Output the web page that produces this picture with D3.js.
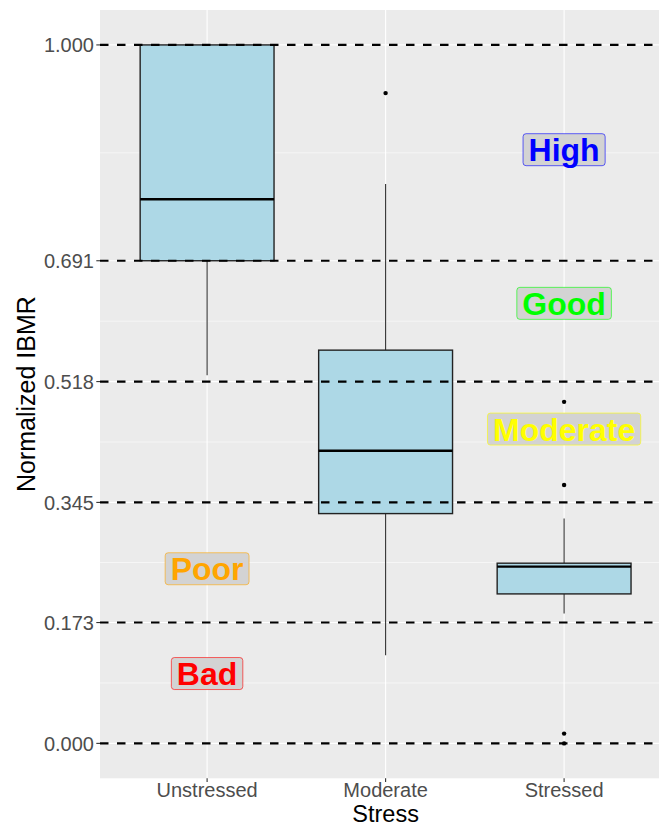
<!DOCTYPE html>
<html>
<head>
<meta charset="utf-8">
<script src="https://cdn.jsdelivr.net/npm/d3@7"></script>
<style>
  body { margin: 0; background: #fff; }
  text { font-family: "Liberation Sans", Arial, sans-serif; }
</style>
</head>
<body>
<svg id="chart"></svg>
<script>
// data
var categories = ["Unstressed", "Moderate", "Stressed"];
var lowerWhisker = [0.527, 0.126, 0.186];
var q1 = [0.691, 0.329, 0.214];
var medians = [0.779, 0.419, 0.253];
var q3 = [1.000, 0.563, 0.258];
var upperWhisker = [1.000, 0.801, 0.322];
var outliers = [[], [0.931], [0.489, 0.370, 0.014, 0.000]];

var breaks = [0.000, 0.173, 0.345, 0.518, 0.691, 1.000];
var breakLabels = ["0.000", "0.173", "0.345", "0.518", "0.691", "1.000"];

var labelText = ["High", "Good", "Moderate", "Poor", "Bad"];
var labelY = [0.85, 0.63, 0.45, 0.25, 0.10];
var labelCat = ["Stressed", "Stressed", "Stressed", "Unstressed", "Unstressed"];
var labelColor = ["#0000FF", "#00FF00", "#FFFF00", "#FFA500", "#FF0000"];

// dimensions
var W = 659, H = 827;
var margin = {top: 10, left: 100, bottom: 48.7};
var panelRight = 671.2; // panel runs past the right edge of the picture
var height = H - margin.top - margin.bottom;

var svg = d3.select("#chart").attr("width", W).attr("height", H);

var x = d3.scalePoint().domain(categories).range([margin.left, panelRight]).padding(0.6);
var y = d3.scaleLinear().domain([-0.05, 1.05]).range([margin.top + height, margin.top]);
var step = x.step();
var boxW = step * 0.75;

// panel background
svg.append("rect")
  .attr("x", margin.left).attr("y", margin.top)
  .attr("width", panelRight - margin.left).attr("height", height)
  .attr("fill", "#EBEBEB");

// minor grid (midpoints between breaks)
var minor = [];
for (var i = 0; i < breaks.length - 1; i++) minor.push((breaks[i] + breaks[i + 1]) / 2);
svg.selectAll(".minor").data(minor).enter().append("line")
  .attr("x1", margin.left).attr("x2", panelRight)
  .attr("y1", d => y(d)).attr("y2", d => y(d))
  .attr("stroke", "#fff").attr("stroke-width", 0.55);

// major grid
svg.selectAll(".major").data(breaks).enter().append("line")
  .attr("x1", margin.left).attr("x2", panelRight)
  .attr("y1", d => y(d)).attr("y2", d => y(d))
  .attr("stroke", "#fff").attr("stroke-width", 1.1);
svg.selectAll(".vmajor").data(categories).enter().append("line")
  .attr("x1", d => x(d)).attr("x2", d => x(d))
  .attr("y1", margin.top).attr("y2", margin.top + height)
  .attr("stroke", "#fff").attr("stroke-width", 1.1);

// boxplots
var g = svg.append("g");
categories.forEach(function(c, i) {
  var cx = x(c);
  g.append("line")
    .attr("x1", cx).attr("x2", cx)
    .attr("y1", y(q3[i])).attr("y2", y(upperWhisker[i]))
    .attr("stroke", "#333").attr("stroke-width", 1.1);
  g.append("line")
    .attr("x1", cx).attr("x2", cx)
    .attr("y1", y(q1[i])).attr("y2", y(lowerWhisker[i]))
    .attr("stroke", "#333").attr("stroke-width", 1.1);
  g.append("rect")
    .attr("x", cx - boxW / 2).attr("width", boxW)
    .attr("y", y(q3[i])).attr("height", y(q1[i]) - y(q3[i]))
    .attr("fill", "#ADD8E6").attr("stroke", "#222").attr("stroke-width", 1.4);
  g.append("line")
    .attr("x1", cx - boxW / 2).attr("x2", cx + boxW / 2)
    .attr("y1", y(medians[i])).attr("y2", y(medians[i]))
    .attr("stroke", "#000").attr("stroke-width", 2.4);
  g.selectAll(null).data(outliers[i]).enter().append("circle")
    .attr("cx", cx).attr("cy", d => y(d)).attr("r", 2.2)
    .attr("fill", "#000");
});

// dashed reference lines
svg.selectAll(".hline").data(breaks).enter().append("line")
  .attr("x1", margin.left).attr("x2", panelRight)
  .attr("y1", d => y(d)).attr("y2", d => y(d))
  .attr("stroke", "#000").attr("stroke-width", 2.1)
  .attr("stroke-dasharray", "8.5,8.5");

// y axis
var yAxis = svg.append("g");
yAxis.selectAll(".tick").data(breaks).enter().append("line")
  .attr("x1", margin.left - 3.7).attr("x2", margin.left)
  .attr("y1", d => y(d)).attr("y2", d => y(d))
  .attr("stroke", "#333").attr("stroke-width", 1.1);
yAxis.selectAll(".lab").data(breaks).enter().append("text")
  .attr("x", margin.left - 6).attr("y", d => y(d)).attr("dy", "0.36em")
  .attr("text-anchor", "end").attr("font-size", 20).attr("fill", "#4D4D4D")
  .text((d, i) => breakLabels[i]);

// x axis
var xAxis = svg.append("g");
xAxis.selectAll(".tick").data(categories).enter().append("line")
  .attr("x1", d => x(d)).attr("x2", d => x(d))
  .attr("y1", margin.top + height).attr("y2", margin.top + height + 3.7)
  .attr("stroke", "#333").attr("stroke-width", 1.1);
xAxis.selectAll(".lab").data(categories).enter().append("text")
  .attr("x", d => x(d)).attr("y", 797)
  .attr("text-anchor", "middle").attr("font-size", 20).attr("fill", "#4D4D4D")
  .text(d => d);

// axis titles
svg.append("text")
  .attr("x", x("Moderate")).attr("y", 821.8)
  .attr("text-anchor", "middle").attr("font-size", 23.5).attr("fill", "#000")
  .text("Stress");
svg.append("text")
  .attr("transform", "translate(35," + (margin.top + height / 2) + ") rotate(-90)")
  .attr("text-anchor", "middle").attr("font-size", 25).attr("fill", "#000")
  .text("Normalized IBMR");

// category labels
labelText.forEach(function(t, i) {
  var cx = x(labelCat[i]), cy = y(labelY[i]);
  var lg = svg.append("g");
  var box = lg.append("rect");
  var txt = lg.append("text")
    .attr("x", cx).attr("y", cy + 11.5)
    .attr("text-anchor", "middle").attr("font-size", 32).attr("font-weight", "bold")
    .attr("fill", labelColor[i])
    .text(t);
  var w = txt.node().getComputedTextLength() + 11;
  box.attr("x", cx - w / 2).attr("y", cy - 16).attr("width", w).attr("height", 32)
    .attr("rx", 3).attr("ry", 3)
    .attr("fill", "#D3D3D3").attr("stroke", labelColor[i])
    .attr("stroke-opacity", 0.6).attr("stroke-width", 1);
});
</script>
</body>
</html>
